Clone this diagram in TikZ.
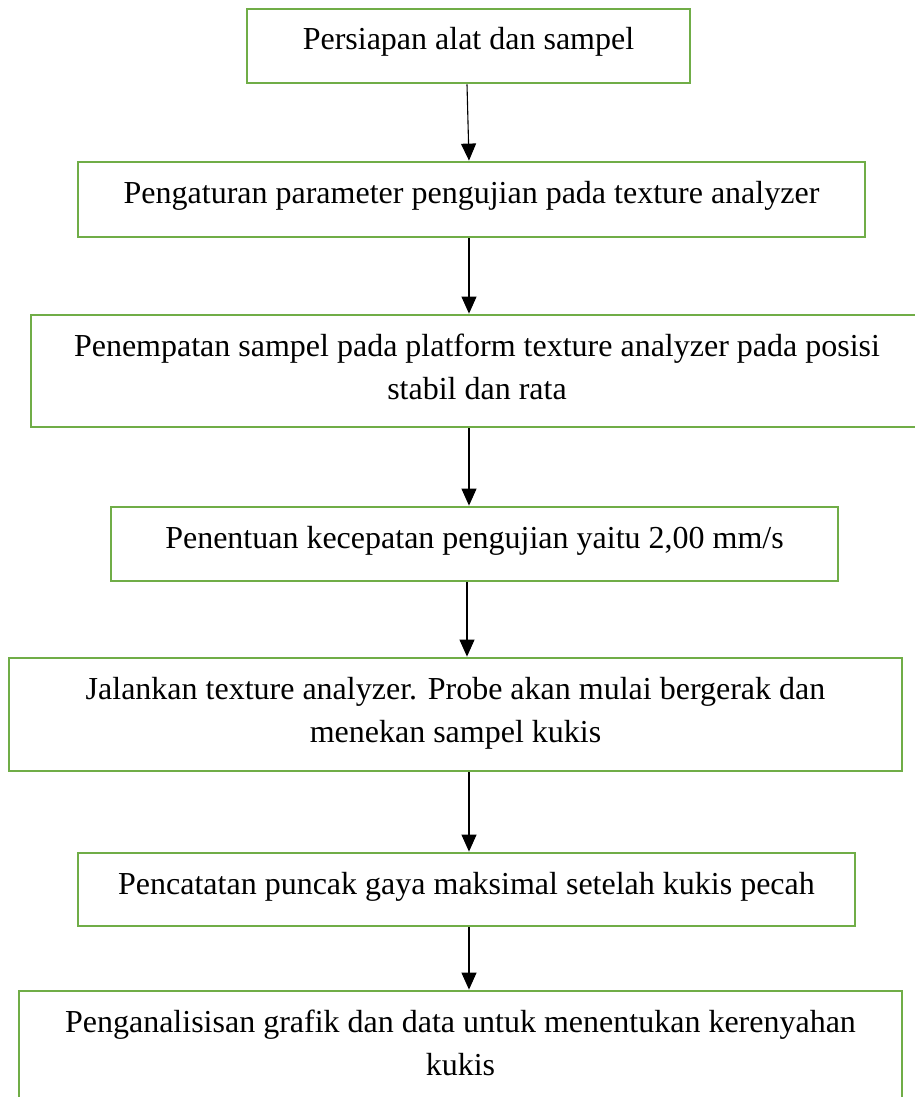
\documentclass[tikz,border=0pt]{standalone}
\usepackage{fontspec}
\setmainfont{Liberation Serif}
\usetikzlibrary{arrows.meta}
\definecolor{boxgreen}{HTML}{70AD47}

\begin{document}
\begin{tikzpicture}[x=1pt, y=-1pt,
  stepbox/.style={draw=boxgreen, line width=2.8pt, inner sep=0pt},
  steptext/.style={anchor=base, inner sep=0pt, align=flush center, text width=880pt,
    font=\fontsize{32}{43}\selectfont},
  flow/.style={-{Triangle[length=17pt, width=15pt]}, line width=1.1pt, black}]

\useasboundingbox (0,0) rectangle (915,1097);

% 方框
\node[stepbox, minimum width=443pt, minimum height=74pt] (s1) at (468.5,46) {};
\node[stepbox, minimum width=787pt, minimum height=75pt] (s2) at (471.5,199.5) {};
\node[stepbox, minimum width=892pt, minimum height=112pt] (s3) at (477,371) {};
\node[stepbox, minimum width=727pt, minimum height=74pt] (s4) at (474.5,544) {};
\node[stepbox, minimum width=893pt, minimum height=113pt] (s5) at (455.5,714.5) {};
\node[stepbox, minimum width=777pt, minimum height=73pt] (s6) at (466.5,889.5) {};
\node[stepbox, minimum width=883pt, minimum height=113pt] (s7) at (460.5,1047.5) {};

% 文字
\node[steptext] (t1) at (468.5,50) {Persiapan alat dan sampel};
\node[steptext] (t2) at (471.5,203) {Pengaturan parameter pengujian pada texture analyzer};
\node[steptext] (t3) at (477,356) {Penempatan sampel pada platform texture analyzer pada posisi\\stabil dan rata};
\node[steptext] (t4) at (474.5,548) {Penentuan kecepatan pengujian yaitu 2,00 mm/s};
\node[steptext] (t5) at (455.5,699) {Jalankan texture analyzer. Probe akan mulai bergerak dan\\menekan sampel kukis};
\node[steptext] (t6) at (466.5,894) {Pencatatan puncak gaya maksimal setelah kukis pecah};
\node[steptext] (t7) at (460.5,1032) {Penganalisisan grafik dan data untuk menentukan kerenyahan\\kukis};

% 箭头
\draw[flow] ([xshift=-1.5pt]s1.south) -- ([xshift=-2.5pt]s2.north);
\draw[flow] ([xshift=-2.5pt]s2.south) -- ([xshift=-8pt]s3.north);
\draw[flow] ([xshift=-8pt]s3.south) -- ([xshift=-5.5pt]s4.north);
\draw[flow] ([xshift=-7.5pt]s4.south) -- ([xshift=11.5pt]s5.north);
\draw[flow] ([xshift=13.5pt]s5.south) -- ([xshift=2.5pt]s6.north);
\draw[flow] ([xshift=2.5pt]s6.south) -- ([xshift=8.5pt]s7.north);

\end{tikzpicture}
\end{document}
